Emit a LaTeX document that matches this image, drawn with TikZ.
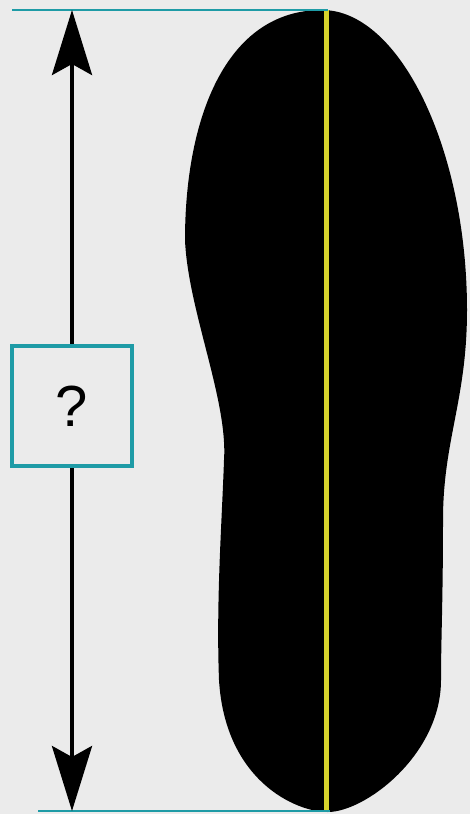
\documentclass[tikz,border=0pt]{standalone}
\usepackage{fontspec}
\setsansfont{Liberation Sans}
\usepackage{tikz}
\usetikzlibrary{arrows.meta}
\definecolor{fond}{HTML}{EBEBEB}
\definecolor{teal}{HTML}{1E9BA6}
\definecolor{galben}{HTML}{D6D22C}

\begin{document}
\begin{tikzpicture}[x=1pt, y=-1pt, >={Stealth[length=65pt, width=40pt, inset=11pt]}]
  % Fundal
  \fill[fond] (0,0) rectangle (470,814);
  \useasboundingbox (0,0) rectangle (470,814);

  % Capete de masura
  \coordinate (stTop) at (12,10);
  \coordinate (drTop) at (328,10);
  \coordinate (stBot) at (38,811);
  \coordinate (drBot) at (330,811);
  \coordinate (sagSus) at (72,10);
  \coordinate (sagJos) at (72,811);

  % Talpa -- neagra, din curbe Bezier
  \fill[black] (185,240)
    .. controls (185,120) and (225,10) .. (322,10)
    .. controls (400,10) and (467,150) .. (467,310)
    .. controls (467,400) and (443,440) .. (443,520)
    .. controls (443,600) and (441,640) .. (441,680)
    .. controls (441,755) and (365,812) .. (328,812)
    .. controls (295,812) and (225,780) .. (219,680)
    .. controls (216,600) and (222,520) .. (224,460)
    .. controls (228,400) and (188,310) .. (185,240) -- cycle;

  % Axa talpii -- galben
  \draw[galben, line width=5pt] (326,10) -- (326,812);

  % Linii orizontale -- turcoaz
  \draw[teal, line width=2.5pt] (stTop) -- (drTop);
  \draw[teal, line width=2.5pt] (stBot) -- (drBot);

  % Sageata dubla
  \draw[black, line width=4pt, <->] (sagSus) -- (sagJos);

  % Caseta cu semn de intrebare
  \node[draw=teal, line width=4.5pt, fill=fond, minimum size=120pt,
    inner sep=0pt, font=\sffamily\fontsize{58}{60}\selectfont]
    (intrebare) at (72,406) {?};
\end{tikzpicture}
\end{document}
